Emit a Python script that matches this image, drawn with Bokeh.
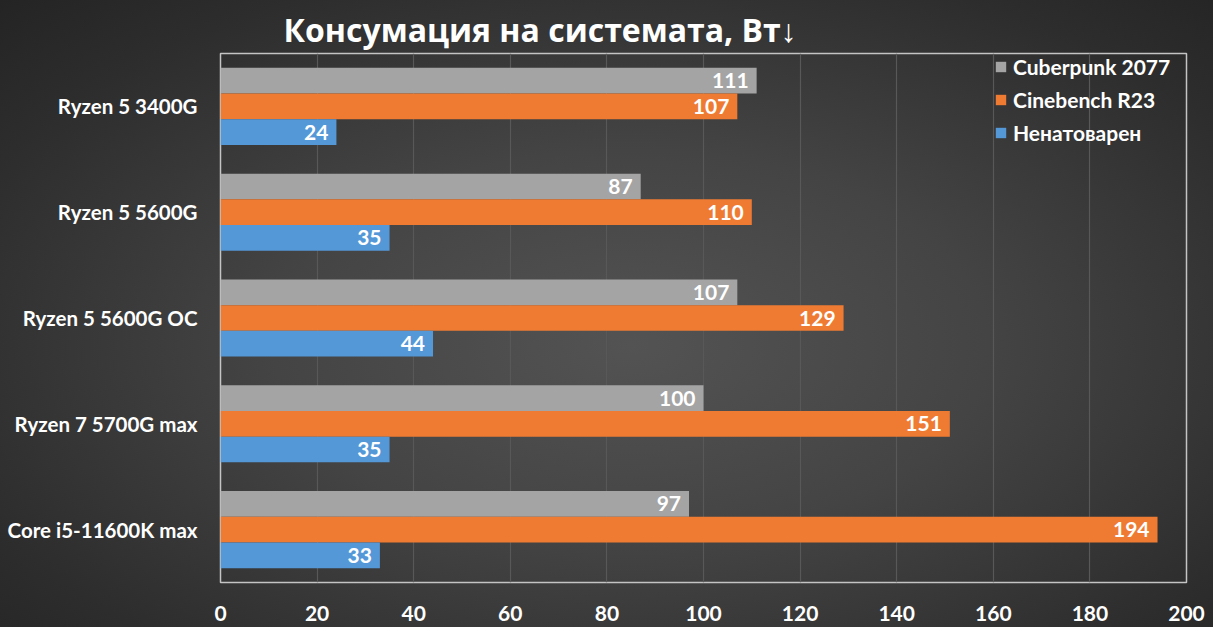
from bokeh.plotting import figure
from bokeh.models import (FactorRange, Range1d, FixedTicker, ColumnDataSource,
                          LabelSet, Legend, LegendItem)
from bokeh.transform import dodge
from bokeh.core.properties import value
from bokeh.embed import file_html
from bokeh.resources import INLINE

categories = ["Ryzen 5 3400G", "Ryzen 5 5600G", "Ryzen 5 5600G OC",
              "Ryzen 7 5700G max", "Core i5-11600K max"]
series = ["Cuberpunk 2077", "Cinebench R23", "Ненатоварен"]
cyberpunk = [111, 87, 107, 100, 97]
cinebench = [107, 110, 129, 151, 194]
idle = [24, 35, 44, 35, 33]
x_ticks = [0, 20, 40, 60, 80, 100, 120, 140, 160, 180, 200]

colors = ["#a4a4a4", "#ef7b33", "#5598d8"]
offsets = [0.243, 0.0, -0.243]
values = [cyberpunk, cinebench, idle]

FONT = "Lato"

p = figure(width=1213, height=627, output_backend="svg", toolbar_location=None,
           y_range=FactorRange(factors=list(reversed(categories))),
           x_range=Range1d(0, 200),
           min_border_left=220, min_border_right=27, min_border_top=53,
           min_border_bottom=45)

p.styles = {"background-image":
            "radial-gradient(ellipse at 52% 55%, #535353 0%, #444444 40%, #2d2d2d 80%, #242424 100%)"}
p.background_fill_color = None
p.border_fill_color = None
p.outline_line_color = "#c4c4c4"
p.outline_line_width = 1.5

p.title.text = "Консумация на системата, Вт↓"
p.title.text_color = "white"
p.title.text_font = "Open Sans"
p.title.text_font_style = "bold"
p.title.text_font_size = "32px"
p.title.align = "left"
p.title.offset = 63
p.title.standoff = 6

renderers = []
for name, vals, col, off in zip(series, values, colors, offsets):
    src = ColumnDataSource(dict(cat=categories, val=vals, lab=[str(v) for v in vals]))
    r = p.hbar(y=dodge("cat", off, range=p.y_range), right="val", left=0,
               height=0.243, source=src, fill_color=col, line_color=None)
    renderers.append((name, r))
    lbl = LabelSet(x="val", y=dodge("cat", off, range=p.y_range), text="lab",
                   source=src, text_align="right", text_baseline="middle",
                   x_offset=-8, y_offset=0, text_color="white",
                   text_font=value(FONT), text_font_style="bold",
                   text_font_size="21px")
    p.add_layout(lbl)

legend = Legend(items=[LegendItem(label=n, renderers=[r]) for n, r in renderers],
                location=(774, 437), background_fill_alpha=0, border_line_color=None,
                label_text_color="white", label_text_font=FONT,
                label_text_font_style="bold", label_text_font_size="21px",
                glyph_width=13, glyph_height=13, label_standoff=6, spacing=8,
                margin=0, padding=0, label_height=22)
p.add_layout(legend)

p.xaxis.ticker = FixedTicker(ticks=x_ticks)
p.xaxis.major_label_text_color = "white"
p.xaxis.major_label_text_font = FONT
p.xaxis.major_label_text_font_style = "bold"
p.xaxis.major_label_text_font_size = "21px"
p.xaxis.major_label_standoff = 17
p.yaxis.major_label_text_color = "white"
p.yaxis.major_label_text_font = FONT
p.yaxis.major_label_text_font_style = "bold"
p.yaxis.major_label_text_font_size = "20.5px"
p.yaxis.major_label_standoff = 17
for ax in (p.xaxis, p.yaxis):
    ax.axis_line_color = None
    ax.major_tick_line_color = None
    ax.minor_tick_line_color = None

p.xgrid.grid_line_color = "#585858"
p.xgrid.grid_line_width = 1.2
p.ygrid.grid_line_color = None

open("out.html", "w").write(file_html(p, INLINE))
